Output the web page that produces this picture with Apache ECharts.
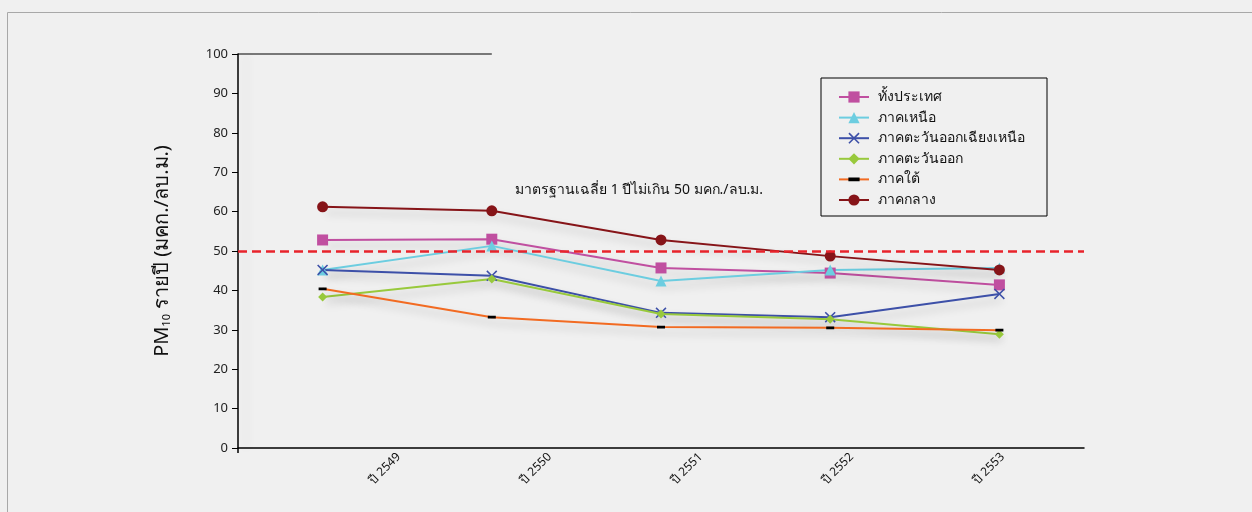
<!DOCTYPE html>
<html>
<head>
<meta charset="utf-8">
<script src="https://cdn.jsdelivr.net/npm/echarts@6/dist/echarts.min.js"></script>
<style>
  html, body { margin: 0; padding: 0; background: #f0f0f0; }
  #chart { width: 1252px; height: 512px; }
</style>
</head>
<body>
<div id="chart"></div>
<script>
// Annual PM10 averages by region (µg/m³)
const years = ['ปี 2549', 'ปี 2550', 'ปี 2551', 'ปี 2552', 'ปี 2553'];
const wholeCountry = [52.8, 53.0, 45.7, 44.4, 41.4];
const north        = [45.2, 51.3, 42.4, 45.2, 45.7];
const northeast    = [45.2, 43.7, 34.3, 33.2, 39.1];
const east         = [38.3, 42.9, 34.0, 32.7, 28.9];
const south        = [40.4, 33.2, 30.7, 30.5, 29.9];
const central      = [61.2, 60.2, 52.8, 48.7, 45.2];
const standardLimit = 50;
const standardText = 'มาตรฐานเฉลี่ย 1 ปีไม่เกิน 50 มคก./ลบ.ม.';
const yTicks = { min: 0, max: 100, interval: 10 };

const FONT = 'Tahoma, "Noto Sans", "DejaVu Sans", sans-serif';
const shadow = { shadowColor: 'rgba(0,0,0,0.22)', shadowBlur: 9, shadowOffsetX: 3, shadowOffsetY: 6 };
const crossPath = 'path://M0,1L1,0L5,4L9,0L10,1L6,5L10,9L9,10L5,6L1,10L0,9L4,5Z';
// short flat bar centred in a square box (corner specks keep the box square)
const dashPath = 'path://M0,0L0.02,0L0,0.02ZM0,2.6H8V5.4H0ZM8,8L7.98,8L8,7.98Z';

function lineSeries(name, data, color, symbol, symbolSize, markerColor) {
  return {
    name, type: 'line', data,
    symbol, symbolSize,
    showAllSymbol: true,
    itemStyle: { color: markerColor || color },
    lineStyle: Object.assign({ color, width: 2 }, shadow),
    emphasis: { disabled: true },
    z: 3
  };
}

const series = [
  lineSeries('ทั้งประเทศ', wholeCountry, '#c04fa0', 'rect', 11),
  lineSeries('ภาคเหนือ', north, '#6ccde0', 'triangle', 11),
  lineSeries('ภาคตะวันออกเฉียงเหนือ', northeast, '#3d50a8', crossPath, 11),
  lineSeries('ภาคตะวันออก', east, '#98c93c', 'diamond', 9),
  lineSeries('ภาคใต้', south, '#f26b22', dashPath, 8, '#000000'),
  lineSeries('ภาคกลาง', central, '#861418', 'circle', 11)
];

// Standard limit as a dashed horizontal line across the plot
series[0].markLine = {
  silent: true,
  symbol: 'none',
  label: { show: false },
  lineStyle: { color: '#e8232b', type: [9, 5], width: 2.5 },
  data: [{ yAxis: standardLimit }]
};

const chart = echarts.init(document.getElementById('chart'));
chart.setOption({
  backgroundColor: '#f0f0f0',
  animation: false,
  textStyle: { fontFamily: FONT },
  grid: [
    { left: 238, right: 168, top: 54, bottom: 64 },
    // narrower band that carries the year labels
    { left: 247, width: 755, top: 54, bottom: 64 }
  ],
  legend: {
    orient: 'vertical',
    left: 821, top: 78,
    padding: [12, 22, 9, 17],
    itemWidth: 30, itemHeight: 14, itemGap: 6.6,
    borderColor: '#000', borderWidth: 1,
    backgroundColor: '#f0f0f0',
    textStyle: { fontSize: 14, color: '#111', fontFamily: FONT, padding: [0, 0, 0, 4] },
    data: series.map(s => s.name)
  },
  xAxis: [
    {
      type: 'category', gridIndex: 0,
      data: years,
      boundaryGap: true,
      axisLine: { lineStyle: { color: '#000', width: 1.5 } },
      axisTick: { show: false },
      axisLabel: { show: false }
    },
    {
      type: 'category', gridIndex: 1,
      data: years,
      boundaryGap: true,
      axisLine: { show: false },
      axisTick: { show: false },
      axisLabel: {
        rotate: 45, fontSize: 12, color: '#111', fontFamily: FONT,
        align: 'left', verticalAlign: 'top', margin: 8,
        padding: [47, 0, 0, 16]
      }
    }
  ],
  yAxis: [
    {
      type: 'value', gridIndex: 0,
      min: yTicks.min, max: yTicks.max, interval: yTicks.interval,
      name: 'PM{sub|10} รายปี (มคก./ลบ.ม.)',
      nameLocation: 'middle', nameGap: 66, nameRotate: 90,
      nameTextStyle: {
        fontSize: 20, color: '#111', fontFamily: FONT,
        rich: { sub: { fontSize: 11, verticalAlign: 'bottom', padding: [9, 0, 0, 0], color: '#111' } }
      },
      splitLine: { show: false },
      axisLine: { show: true, lineStyle: { color: '#000', width: 1.5,
        shadowColor: 'rgba(0,0,0,0.12)', shadowBlur: 10, shadowOffsetX: 8 } },
      axisTick: { show: true, inside: false, length: 6, lineStyle: { color: '#000' } },
      axisLabel: { fontSize: 13, color: '#222', margin: 10, fontFamily: FONT }
    },
    { type: 'value', gridIndex: 1, min: 0, max: 1, show: false }
  ],
  series
});

// Frame, top rule, axis stub and the standard-limit caption
const topLeft = chart.convertToPixel({ gridIndex: 0 }, [0, yTicks.max]);
const origin = chart.convertToPixel({ gridIndex: 0 }, [0, yTicks.min]);
const ruleEnd = chart.convertToPixel({ xAxisIndex: 0 }, years[1]);
const captionY = chart.convertToPixel({ yAxisIndex: 0 }, 65.5);
chart.setOption({
  graphic: [
    { type: 'rect', shape: { x: 7.5, y: 12.5, width: 1300, height: 600 },
      style: { fill: 'none', stroke: '#a8a8a8', lineWidth: 1 }, silent: true },
    { type: 'line', shape: { x1: 238, y1: topLeft[1], x2: ruleEnd, y2: topLeft[1] },
      style: { stroke: '#000', lineWidth: 1.2 }, silent: true },
    { type: 'line', shape: { x1: 238, y1: origin[1], x2: 238, y2: origin[1] + 5 },
      style: { stroke: '#000', lineWidth: 1.5 }, silent: true },
    { type: 'text', x: 515, y: captionY,
      style: { text: standardText, font: '14px ' + FONT, fill: '#111', verticalAlign: 'middle' },
      silent: true }
  ]
});
</script>
</body>
</html>
